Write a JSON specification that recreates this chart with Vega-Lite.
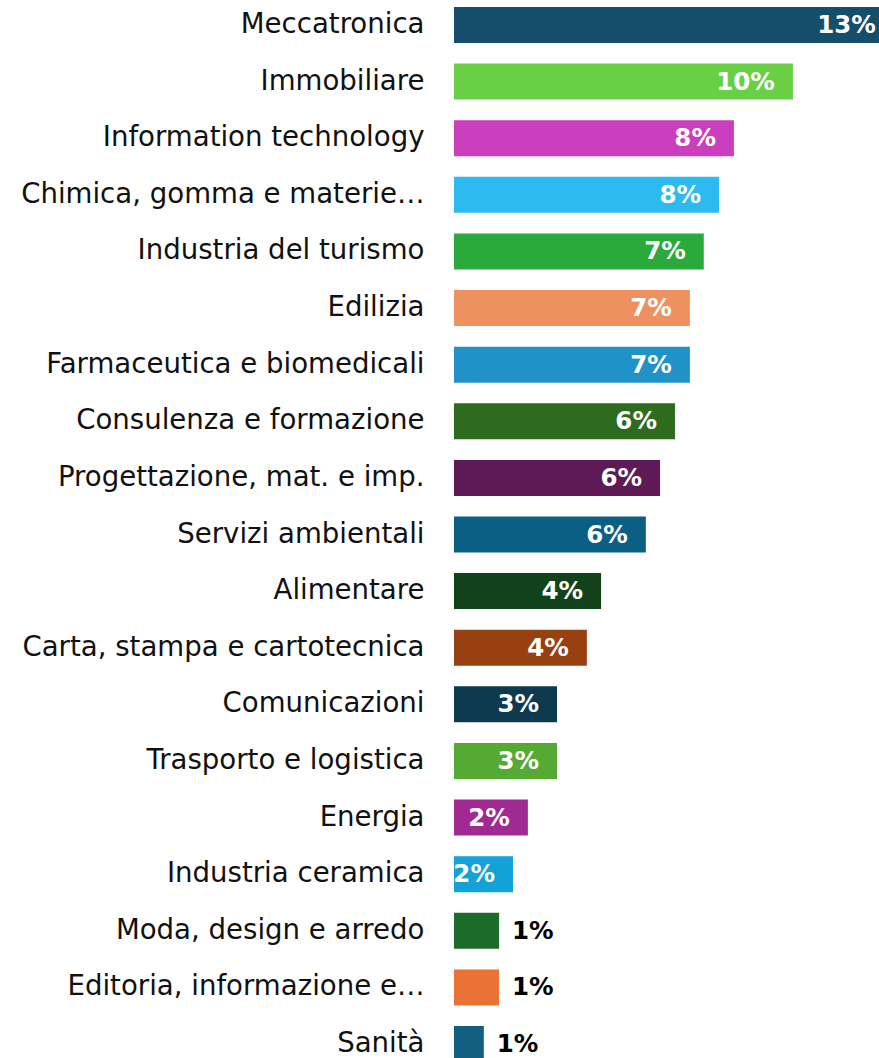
{
  "$schema": "https://vega.github.io/schema/vega-lite/v6.json",
  "autosize": {"type": "none"},
  "padding": {"left": 454, "top": 0, "right": 0, "bottom": 0},
  "width": 425,
  "height": 1058,
  "background": "white",
  "config": {"view": {"stroke": null}},
  "data": {
    "values": [
      {"sector": "Meccatronica", "value": 12.98, "label": "13%"},
      {"sector": "Immobiliare", "value": 10.0, "label": "10%"},
      {"sector": "Information technology", "value": 8.26, "label": "8%"},
      {"sector": "Chimica, gomma e materie…", "value": 7.82, "label": "8%"},
      {"sector": "Industria del turismo", "value": 7.37, "label": "7%"},
      {"sector": "Edilizia", "value": 6.96, "label": "7%"},
      {"sector": "Farmaceutica e biomedicali", "value": 6.96, "label": "7%"},
      {"sector": "Consulenza e formazione", "value": 6.52, "label": "6%"},
      {"sector": "Progettazione, mat. e imp.", "value": 6.08, "label": "6%"},
      {"sector": "Servizi ambientali", "value": 5.66, "label": "6%"},
      {"sector": "Alimentare", "value": 4.34, "label": "4%"},
      {"sector": "Carta, stampa e cartotecnica", "value": 3.92, "label": "4%"},
      {"sector": "Comunicazioni", "value": 3.04, "label": "3%"},
      {"sector": "Trasporto e logistica", "value": 3.04, "label": "3%"},
      {"sector": "Energia", "value": 2.18, "label": "2%"},
      {"sector": "Industria ceramica", "value": 1.74, "label": "2%"},
      {"sector": "Moda, design e arredo", "value": 1.33, "label": "1%"},
      {"sector": "Editoria, informazione e…", "value": 1.33, "label": "1%"},
      {"sector": "Sanità", "value": 0.88, "label": "1%"}
    ]
  },
  "encoding": {
    "y": {
      "field": "sector",
      "type": "nominal",
      "sort": null,
      "scale": {"range": [7, 1062], "paddingInner": 0.364, "paddingOuter": 0},
      "axis": {
        "title": null,
        "domain": false,
        "ticks": false,
        "tickSize": 0,
        "labelPadding": 30,
        "labelFont": "DejaVu Sans",
        "labelFontSize": 27.6,
        "labelColor": "#111111",
        "labelLimit": 600
      }
    },
    "x": {
      "field": "value",
      "type": "quantitative",
      "scale": {"domain": [0, 12.54], "nice": false, "zero": true},
      "axis": null
    }
  },
  "layer": [
    {
      "mark": {"type": "bar", "clip": true},
      "encoding": {
        "color": {
          "field": "sector",
          "type": "nominal",
          "legend": null,
          "scale": {
            "domain": ["Meccatronica", "Immobiliare", "Information technology", "Chimica, gomma e materie…", "Industria del turismo", "Edilizia", "Farmaceutica e biomedicali", "Consulenza e formazione", "Progettazione, mat. e imp.", "Servizi ambientali", "Alimentare", "Carta, stampa e cartotecnica", "Comunicazioni", "Trasporto e logistica", "Energia", "Industria ceramica", "Moda, design e arredo", "Editoria, informazione e…", "Sanità"],
            "range": ["#144E6A", "#69CF45", "#CB3FBE", "#2DBAEF", "#2BAA3C", "#EE905F", "#2192C8", "#2E6B1F", "#5E1A54", "#0B5F83", "#12421A", "#994010", "#0E3A50", "#54AA33", "#A02A92", "#12A2D8", "#1D6B28", "#EA7234", "#135F82"]
          }
        }
      }
    },
    {
      "transform": [{"filter": "datum.value >= 1.5"}],
      "mark": {"type": "text", "align": "right", "baseline": "middle", "dx": -18, "dy": 1, "font": "DejaVu Sans", "fontWeight": "bold", "fontSize": 24.5, "color": "white"},
      "encoding": {"text": {"field": "label"}}
    },
    {
      "transform": [{"filter": "datum.value < 1.5"}],
      "mark": {"type": "text", "align": "left", "baseline": "middle", "dx": 13, "dy": 1, "font": "DejaVu Sans", "fontWeight": "bold", "fontSize": 24.5, "color": "black"},
      "encoding": {"text": {"field": "label"}}
    }
  ]
}
